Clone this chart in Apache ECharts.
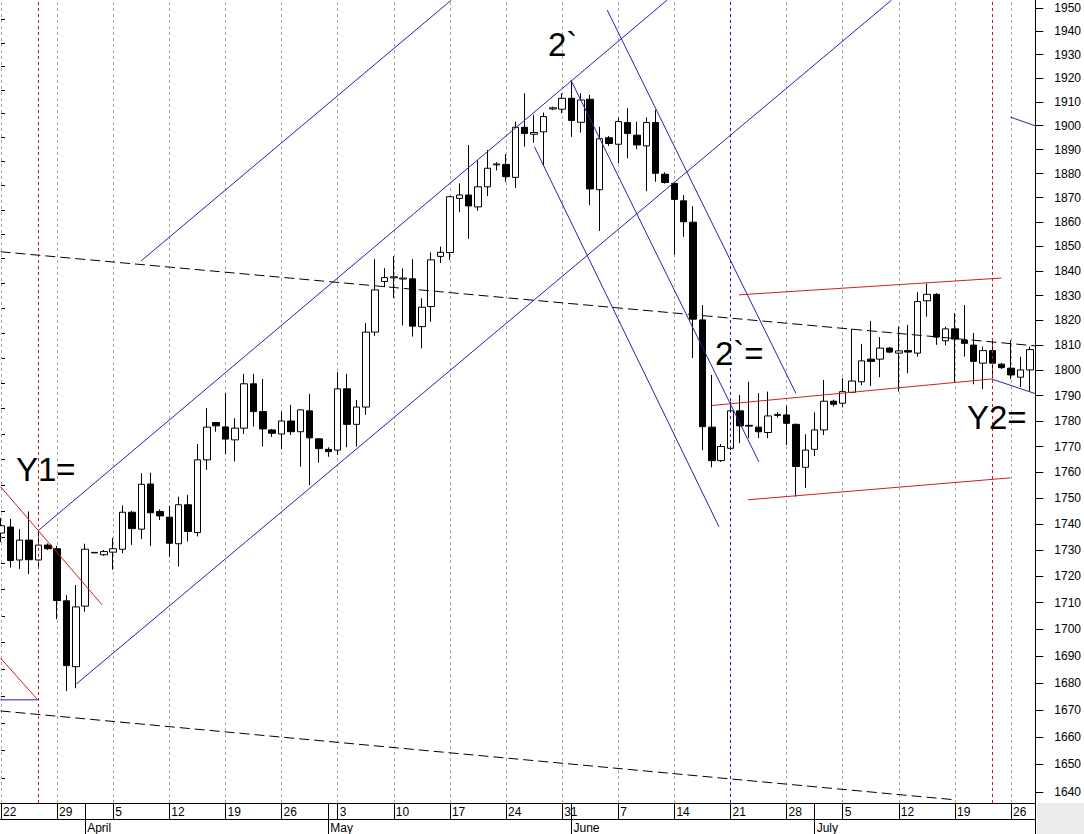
<!DOCTYPE html>
<html>
<head>
<meta charset="utf-8">
<script src="https://cdn.jsdelivr.net/npm/echarts@6/dist/echarts.min.js"></script>
<style>
html,body{margin:0;padding:0;background:#fff;}
#c{width:1084px;height:834px;}
</style>
</head>
<body>
<div id="c"></div>
<script>
// ---- data (daily gold candles, 6 sessions per week, slot 0 = Mon 22 March) ----
const weekLabels = ['22','29','5','12','19','26','3','10','17','24','31','7','14','21','28','5','12','19','26'];
const monthNames = ['April','May','June','July'];
const monthSlots = [9, 35, 61, 87];
const priceTicks = [1640,1650,1660,1670,1680,1690,1700,1710,1720,1730,1740,1750,1760,1770,1780,1790,1800,1810,1820,1830,1840,1850,1860,1870,1880,1890,1900,1910,1920,1930,1940,1950];

const opens = [1736.5,1738.8,1726.2,1733.8,1726.2,1731.9,1730.5,1710.7,1686.0,1708.7,
1728.9,1728.2,1729.2,1730.3,1744.5,1738.0,1755.4,1744.8,1742.6,1732.4,
1747.4,1736.7,1764.8,1779.4,1777.7,1772.6,1777.2,1794.7,1783.7,1776.5,
1774.9,1780.0,1775.8,1784.0,1773.0,1768.9,1768.6,1792.7,1778.7,1785.5,
1815.3,1835.7,1837.2,1836.7,1836.8,1817.5,1825.6,1845.9,1847.5,1869.7,
1871.1,1866.2,1874.5,1883.6,1883.8,1878.4,1899.3,1896.4,1897.4,1907.0,
1906.9,1911.5,1901.4,1911.1,1873.3,1894.9,1892.2,1901.3,1896.0,1891.5,
1901.3,1879.7,1875.9,1868.7,1859.9,1820.2,1777.6,1764.5,1769.3,1784.0,
1778.3,1777.6,1775.5,1782.2,1782.4,1778.7,1761.9,1768.9,1776.5,1787.8,
1787.0,1791.3,1795.5,1804.5,1804.5,1808.9,1806.9,1807.9,1806.9,1827.9,
1830.5,1811.8,1816.6,1812.1,1810.1,1802.9,1807.9,1802.5,1800.9,1797.3,
1800.2];
const closes = [1739.3,1726.0,1733.8,1726.3,1731.9,1730.5,1710.8,1686.4,1708.4,1730.3,
1729.1,1729.4,1730.5,1744.5,1738.2,1755.3,1744.3,1743.1,1732.6,1747.4,
1737.1,1764.8,1777.6,1778.1,1772.9,1777.2,1794.7,1783.7,1776.9,1775.2,
1780.0,1775.8,1784.4,1773.4,1769.2,1768.0,1792.7,1778.7,1785.5,1815.3,
1832.3,1837.3,1837.6,1837.1,1817.7,1825.3,1844.5,1847.6,1870.4,1871.1,
1866.6,1874.5,1882.2,1884.0,1878.7,1899.3,1896.7,1897.1,1903.8,1907.5,
1911.5,1902.2,1910.8,1873.6,1894.5,1892.5,1901.7,1896.7,1891.9,1901.3,
1880.1,1876.3,1869.3,1860.1,1820.5,1777.8,1764.5,1770.0,1784.0,1778.1,
1778.0,1775.8,1782.0,1782.6,1779.1,1762.2,1768.6,1776.5,1787.8,1786.6,
1791.6,1795.8,1803.8,1803.6,1808.9,1807.3,1807.8,1807.3,1827.6,1830.5,
1813.3,1816.6,1812.5,1810.8,1803.6,1807.9,1802.9,1801.1,1798.2,1800.2,
1808.3];
const lows = [1733.0,1723.3,1722.8,1720.8,1723.6,1730.0,1703.8,1677.0,1678.0,1706.6,
1728.9,1727.8,1722.5,1728.8,1732.0,1734.2,1731.6,1741.5,1727.5,1723.7,
1733.3,1735.2,1760.9,1775.8,1767.1,1764.2,1774.9,1777.8,1770.0,1773.8,
1769.0,1774.5,1762.2,1755.0,1763.7,1766.0,1766.7,1769.7,1770.0,1782.4,
1813.8,1833.4,1829.0,1818.0,1813.5,1808.8,1819.5,1843.2,1844.5,1864.0,
1853.1,1864.6,1870.7,1881.3,1876.6,1874.0,1891.2,1892.8,1883.6,1906.5,
1905.2,1895.3,1897.1,1866.9,1856.3,1891.5,1884.3,1886.3,1890.1,1872.7,
1876.6,1875.8,1846.6,1853.9,1804.9,1768.6,1761.9,1764.0,1768.6,1771.3,
1773.3,1773.3,1773.3,1781.4,1770.6,1750.5,1753.8,1766.3,1774.5,1785.7,
1785.4,1791.0,1794.2,1793.9,1797.3,1806.8,1791.6,1798.9,1805.5,1821.5,
1810.2,1810.0,1795.5,1805.5,1794.5,1792.6,1796.9,1800.6,1796.5,1793.4,
1791.6];
const highs = [1742.3,1741.9,1738.0,1744.8,1737.3,1732.5,1731.6,1712.8,1716.7,1732.4,
1729.1,1730.0,1734.6,1747.1,1745.0,1759.6,1759.8,1745.6,1747.0,1750.5,
1751.2,1771.0,1785.1,1779.6,1791.0,1781.1,1798.6,1798.6,1796.6,1776.9,
1783.7,1786.4,1784.6,1790.7,1773.2,1769.7,1799.3,1798.6,1788.3,1818.9,
1844.8,1841.1,1846.0,1841.0,1844.8,1828.9,1847.5,1849.9,1870.8,1875.9,
1891.9,1885.5,1889.8,1884.7,1888.1,1901.7,1913.6,1904.5,1905.5,1908.0,
1913.6,1919.0,1913.6,1912.9,1899.5,1895.6,1903.4,1907.3,1901.7,1903.4,
1906.6,1880.5,1876.3,1871.1,1866.5,1826.2,1798.2,1771.0,1787.6,1790.3,
1795.5,1791.0,1791.6,1783.5,1786.0,1779.0,1774.8,1783.4,1796.2,1788.4,
1796.9,1816.6,1810.6,1819.8,1813.3,1809.3,1817.5,1818.2,1831.4,1834.9,
1831.0,1817.5,1822.9,1826.2,1814.9,1809.5,1812.1,1803.0,1812.1,1805.5,
1809.5];

// trend lines: [[slot, price], [slot, price]]
const blueLines = [
  [[14.99, 1844.1], [48.15, 1953.4]],
  [[3.93, 1737.3], [71.22, 1953.4]],
  [[8.06, 1679.6], [95.22, 1953.4]],
  [[64.82, 1949.1], [84.98, 1791.0]],
  [[60.94, 1919.2], [81.04, 1764.0]],
  [[57.03, 1891.2], [76.77, 1738.9]],
  [[107.92, 1903.6], [110.59, 1899.9]],
  [[105.92, 1796.6], [110.59, 1790.8]],
  [[-0.05, 1673.7], [3.93, 1673.7]]
];
const redLines = [
  [[-0.05, 1754.4], [10.80, 1709.2]],
  [[-0.05, 1689.2], [3.93, 1673.7]],
  [[78.90, 1830.3], [106.96, 1837.1]],
  [[75.99, 1786.1], [105.92, 1796.6]],
  [[79.86, 1749.3], [107.92, 1757.8]]
];
const blackDashedLines = [
  [[-0.05, 1847.8], [110.59, 1809.8]],
  [[-0.05, 1669.6], [101.84, 1637.2]]
];
const redMarkerSlots = [4, 106];
const blueMarkerSlots = [78];

// ---- chart ----
const L = Math.log;
const XMIN = -0.05, XMAX = 110.59;
const YMIN = L(1636.0), YMAX = L(1953.45);
const FONT = '"Liberation Sans", Arial, Helvetica, sans-serif';

const weekSlots = weekLabels.map((_, i) => i * 6);
const weekLabelBySlot = {};
weekSlots.forEach((s, i) => { weekLabelBySlot[s] = weekLabels[i]; });
const monthLabelBySlot = {};
monthSlots.forEach((s, i) => { monthLabelBySlot[s] = monthNames[i]; });

const candleData = opens.map((o, i) => [i, L(o), L(closes[i]), L(lows[i]), L(highs[i])]);

function lineSeries(pts, color, type) {
  return {
    type: 'line', xAxisIndex: 0, yAxisIndex: 0,
    data: pts.map(p => [p[0], L(p[1])]),
    symbol: 'none', silent: true, animation: false, z: 4,
    lineStyle: { color: color, width: 1, type: type }
  };
}

const series = [];
series.push({
  type: 'candlestick', xAxisIndex: 0, yAxisIndex: 0,
  data: candleData,
  encode: { x: 0, y: [1, 2, 3, 4] },
  barWidth: 7,
  silent: true, animation: false, z: 2,
  itemStyle: { color: '#ffffff', color0: '#000000', borderColor: '#000000', borderColor0: '#000000', borderWidth: 1 },
  markLine: {
    silent: true, symbol: ['none', 'none'], z: 1, animation: false,
    label: { show: false },
    lineStyle: { color: '#a8a8a8', width: 1, type: [3, 3] },
    data: weekSlots.filter(s => blueMarkerSlots.indexOf(s) < 0).map(s => ({ xAxis: s }))
  }
});
blueLines.forEach(l => series.push(lineSeries(l, '#2323a8', 'solid')));
redLines.forEach(l => series.push(lineSeries(l, '#cc2020', 'solid')));
blackDashedLines.forEach(l => series.push(lineSeries(l, '#000000', [10, 5])));
series.push({
  type: 'line', xAxisIndex: 0, yAxisIndex: 0, data: [], silent: true, animation: false,
  markLine: {
    silent: true, symbol: ['none', 'none'], z: 6, animation: false,
    label: { show: false },
    data: redMarkerSlots.map(s => ({ xAxis: s, lineStyle: { color: '#c81818', width: 1, type: [3, 3] } }))
      .concat(blueMarkerSlots.map(s => ({ xAxis: s, lineStyle: { color: '#1c1cb0', width: 1, type: [3, 3] } })))
  }
});

const option = {
  backgroundColor: '#ffffff',
  animation: false,
  grid: { left: 0, right: 47, top: 0, bottom: 31, containLabel: false },
  xAxis: [
    {
      type: 'value', min: XMIN, max: XMAX, position: 'bottom',
      axisLine: { show: true, onZero: false, lineStyle: { color: '#000', width: 1 } },
      axisTick: { show: true, inside: false, length: 16, lineStyle: { color: '#000', width: 1 },
        customValues: weekSlots.concat(monthSlots).concat([XMAX]) },
      axisLabel: { show: true, customValues: weekSlots, margin: 3, align: 'left', padding: [0, 0, 0, 2],
        color: '#000', fontSize: 12, fontFamily: FONT,
        formatter: v => weekLabelBySlot[Math.round(v)] || '' },
      splitLine: { show: false }
    },
    {
      type: 'value', min: XMIN, max: XMAX, position: 'bottom', offset: 16,
      axisLine: { show: true, onZero: false, lineStyle: { color: '#000', width: 1 } },
      axisTick: { show: true, inside: false, length: 16, lineStyle: { color: '#000', width: 1 },
        customValues: monthSlots.concat([XMAX]) },
      axisLabel: { show: true, customValues: monthSlots, margin: 3, align: 'left', padding: [0, 0, 0, 2],
        color: '#000', fontSize: 12, fontFamily: FONT,
        formatter: v => monthLabelBySlot[Math.round(v)] || '' },
      splitLine: { show: false }
    }
  ],
  yAxis: [
    {
      type: 'value', min: YMIN, max: YMAX, position: 'right',
      axisLine: { show: true, onZero: false, lineStyle: { color: '#000', width: 1 } },
      axisTick: { show: true, inside: false, length: 8, lineStyle: { color: '#000', width: 1 },
        customValues: priceTicks.map(L) },
      axisLabel: { show: true, customValues: priceTicks.map(L), margin: 19, align: 'left',
        color: '#000', fontSize: 12, fontFamily: FONT,
        formatter: v => String(Math.round(Math.exp(v))) },
      splitLine: { show: false }
    },
    {
      type: 'value', min: YMIN, max: YMAX, position: 'right',
      axisLine: { show: false },
      axisTick: { show: true, inside: false, length: 4, lineStyle: { color: '#000', width: 1 },
        customValues: priceTicks.slice(0, -1).map(p => L(p + 5)) },
      axisLabel: { show: false },
      splitLine: { show: false }
    }
  ],
  series: series,
  graphic: [
    { type: 'rect', z: -1, silent: true, shape: { x: 1037, y: 803, width: 47, height: 31 }, style: { fill: '#ececec' } },
    { type: 'text', left: 16, top: 453, silent: true, z: 10, style: { text: 'Y1=', font: '33px ' + FONT, fill: '#000' } },
    { type: 'text', left: 548, top: 28, silent: true, z: 10, style: { text: '2`', font: '33px ' + FONT, fill: '#000' } },
    { type: 'text', left: 715, top: 337, silent: true, z: 10, style: { text: '2`=', font: '33px ' + FONT, fill: '#000' } },
    { type: 'text', left: 967, top: 401, silent: true, z: 10, style: { text: 'Y2=', font: '33px ' + FONT, fill: '#000' } }
  ]
};

const chart = echarts.init(document.getElementById('c'), null, { renderer: 'svg', width: 1084, height: 834 });
chart.setOption(option);
</script>
</body>
</html>
